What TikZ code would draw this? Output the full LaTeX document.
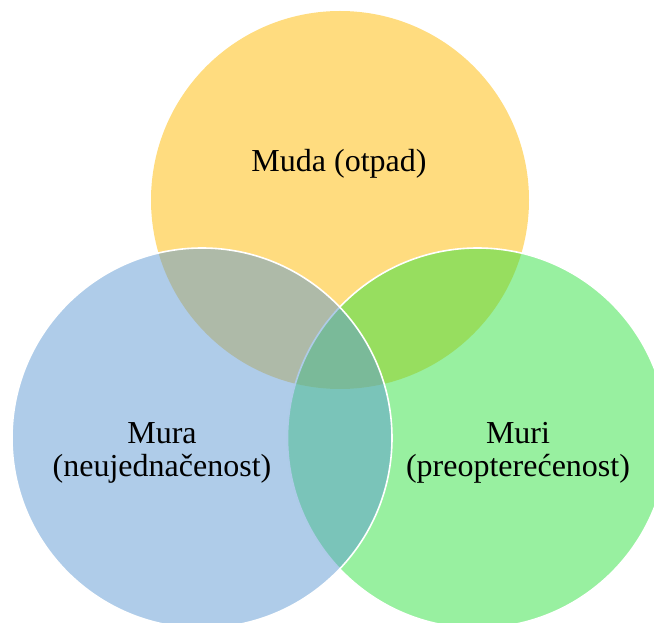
\documentclass[tikz,border=0pt]{standalone}
\usepackage{fontspec}
\setmainfont{Liberation Serif}
\usepackage{tikz}
\definecolor{mudayellow}{RGB}{255,185,0}
\definecolor{murablue}{RGB}{95,153,211}
\definecolor{murigreen}{RGB}{49,225,65}
\tikzset{every picture/.style={x=0.75pt, y=-0.75pt}}
\tikzset{vennset/.style={fill opacity=0.5, draw=white, line width=1.2pt},
         lbl/.style={font=\fontsize{24}{25}\selectfont, align=center, anchor=base}}

\begin{document}
\begin{tikzpicture}
        \useasboundingbox (0,0) rectangle (654,623);
        \clip (0,0) rectangle (654,623);
        % the three sets
        \fill[mudayellow, fill opacity=0.5] (340,200) circle (189);
        \filldraw[vennset, fill=murigreen] (477.5,438) circle (190);
        \filldraw[vennset, fill=murablue] (202,438) circle (190);

        % labels
        \node[lbl] (muda) at (339,172) {Muda (otpad)};
        \node[lbl] (mura) at (162,477) {Mura\\(neujednačenost)};
        \node[lbl] (muri) at (518,477) {Muri\\(preopterećenost)};
    \end{tikzpicture}
\end{document}
